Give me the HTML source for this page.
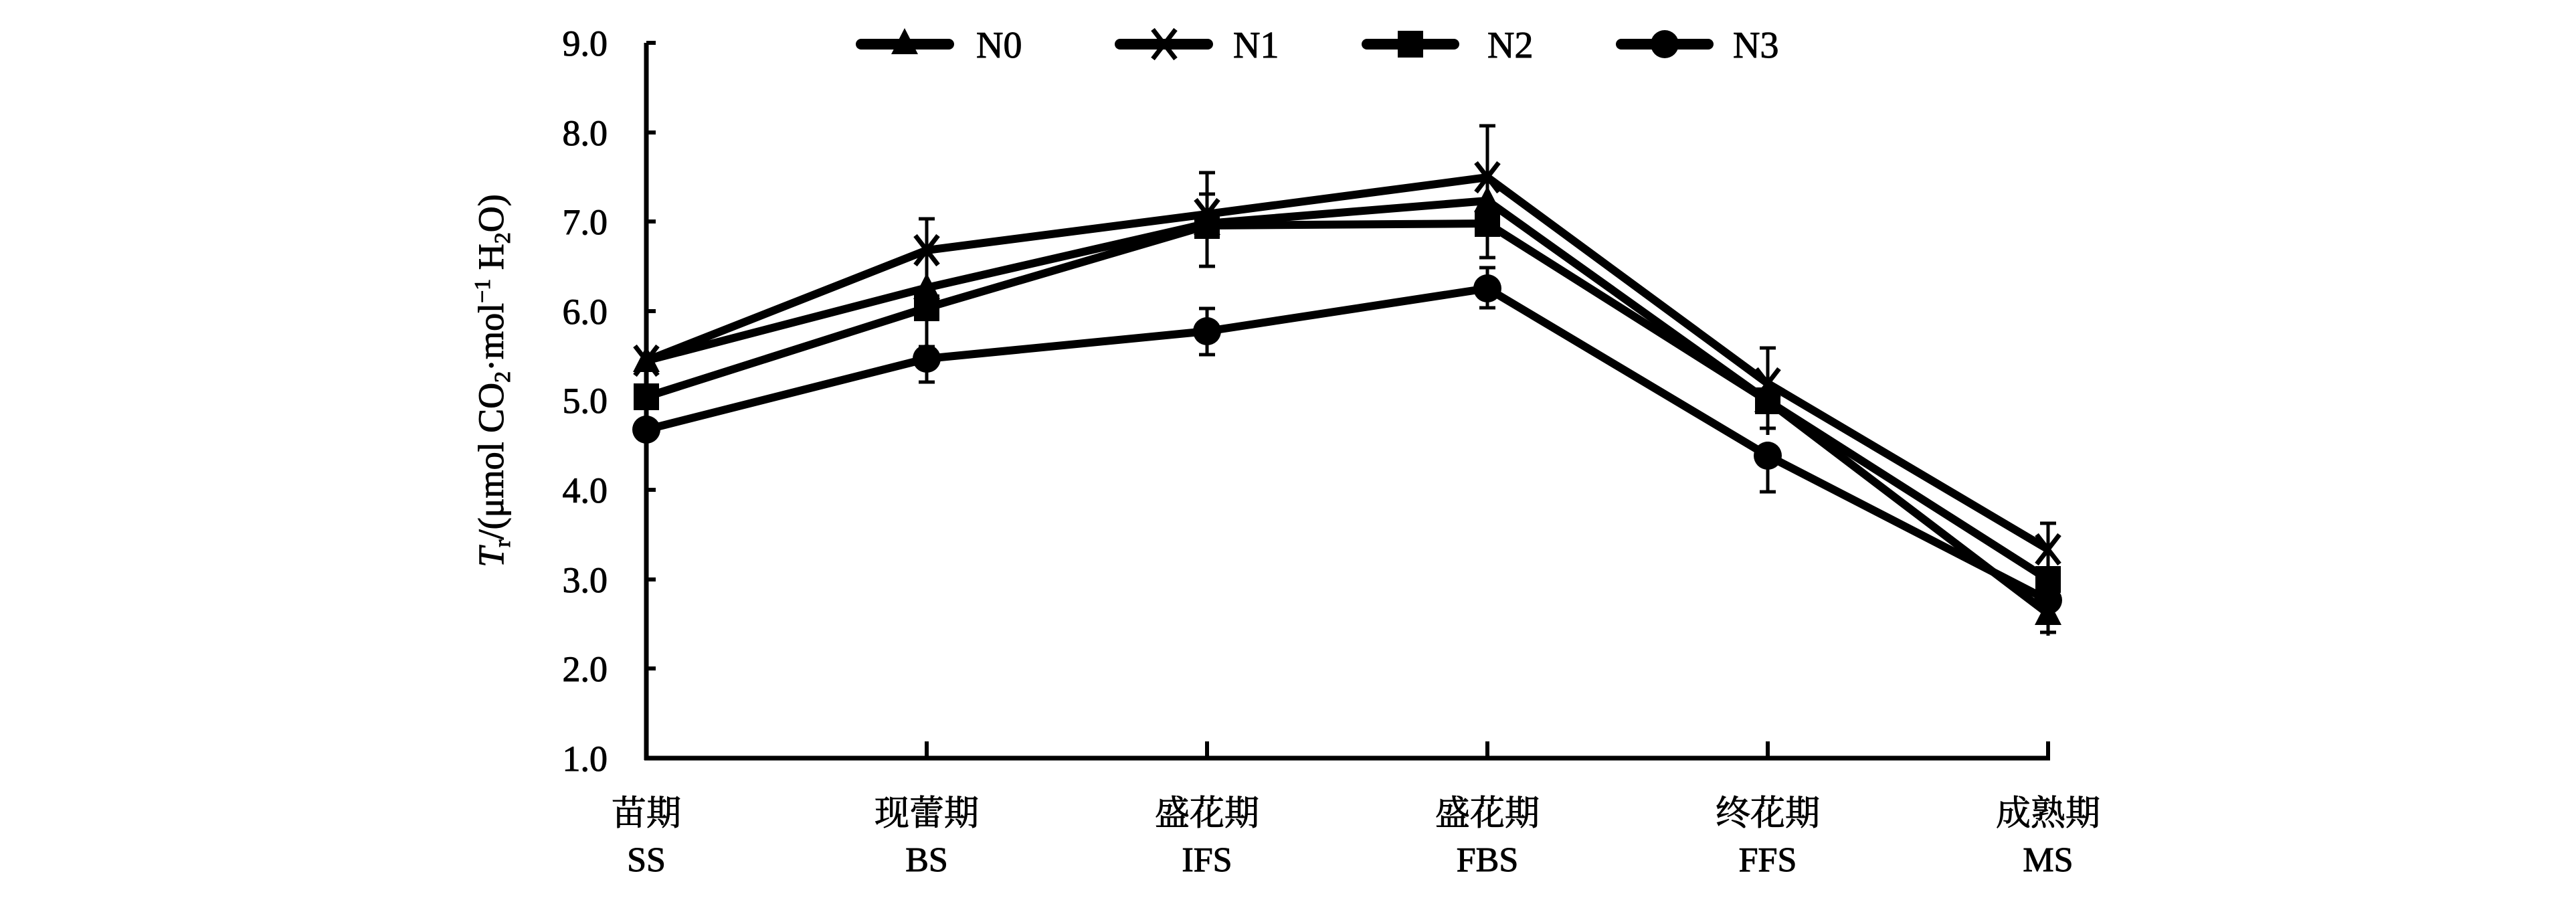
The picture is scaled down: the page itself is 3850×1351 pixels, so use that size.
<!DOCTYPE html>
<html><head><meta charset="utf-8"><style>
html,body{margin:0;padding:0;background:#fff;}
svg{display:block;}
text{font-family:"Liberation Serif","Noto Serif CJK SC",serif;fill:#000;stroke:#000;stroke-width:1;}
</style></head><body>
<svg width="3850" height="1351" viewBox="0 0 3850 1351" xmlns="http://www.w3.org/2000/svg">
<defs>
<g id="tri"><polygon points="0,-22 20,17 -20,17" fill="#000"/></g>
<g id="crs"><path d="M-17,-22 L17,22 M17,-22 L-17,22" stroke="#000" stroke-width="7" fill="none"/></g>
<g id="sq"><rect x="-19" y="-20" width="38" height="40" fill="#000"/></g>
<g id="cir"><circle r="21" fill="#000"/></g>
</defs>
<g stroke="#000" stroke-width="7" fill="none">
<line x1="966" y1="64" x2="966" y2="1136"/>
<line x1="963" y1="1133" x2="3064" y2="1133"/>
</g>
<g stroke="#000" stroke-width="6">
<line x1="966" y1="64" x2="980" y2="64"/>
<line x1="966" y1="198" x2="980" y2="198"/>
<line x1="966" y1="331" x2="980" y2="331"/>
<line x1="966" y1="465" x2="980" y2="465"/>
<line x1="966" y1="598" x2="980" y2="598"/>
<line x1="966" y1="732" x2="980" y2="732"/>
<line x1="966" y1="866" x2="980" y2="866"/>
<line x1="966" y1="999" x2="980" y2="999"/>
<line x1="1385" y1="1133" x2="1385" y2="1108"/>
<line x1="1804" y1="1133" x2="1804" y2="1108"/>
<line x1="2223" y1="1133" x2="2223" y2="1108"/>
<line x1="2642" y1="1133" x2="2642" y2="1108"/>
<line x1="3061" y1="1133" x2="3061" y2="1108"/>
</g>
<g font-size="54" text-anchor="end">
<text x="908" y="83">9.0</text>
<text x="908" y="217">8.0</text>
<text x="908" y="350">7.0</text>
<text x="908" y="484">6.0</text>
<text x="908" y="617">5.0</text>
<text x="908" y="751">4.0</text>
<text x="908" y="885">3.0</text>
<text x="908" y="1018">2.0</text>
<text x="908" y="1152">1.0</text>
</g>
<g font-size="52" text-anchor="middle">
<text x="966" y="1233">苗期</text><text x="966" y="1302">SS</text>
<text x="1385" y="1233">现蕾期</text><text x="1385" y="1302">BS</text>
<text x="1804" y="1233">盛花期</text><text x="1804" y="1302">IFS</text>
<text x="2223" y="1233">盛花期</text><text x="2223" y="1302">FBS</text>
<text x="2642" y="1233">终花期</text><text x="2642" y="1302">FFS</text>
<text x="3061" y="1233">成熟期</text><text x="3061" y="1302">MS</text>
</g>
<text transform="translate(752,569) rotate(-90)" font-size="54" text-anchor="middle"><tspan font-style="italic">T</tspan><tspan font-size="34" dy="10">r</tspan><tspan dy="-10">/(μmol CO</tspan><tspan font-size="34" dy="10">2</tspan><tspan dy="-10">·mol</tspan><tspan font-size="34" dy="-20">−1</tspan><tspan dy="20"> H</tspan><tspan font-size="34" dy="10">2</tspan><tspan dy="-10">O)</tspan></text>
<g stroke="#000" stroke-width="5" fill="none">
<path d="M1385,327 V518 M1373,327 H1397 M1373,518 H1397"/>
<path d="M1385,536 V571 M1373,571 H1397"/>
<path d="M1804,258 V398 M1792,258 H1816 M1792,290 H1816 M1792,398 H1816"/>
<path d="M1804,461 V530 M1792,461 H1816 M1792,530 H1816"/>
<path d="M2223,188 V300 M2211,188 H2235"/>
<path d="M2223,330 V385 M2211,385 H2235"/>
<path d="M2223,400 V460 M2211,400 H2235 M2211,460 H2235"/>
<path d="M2642,520 V650 M2630,520 H2654 M2630,640 H2654"/>
<path d="M2642,660 V735 M2630,735 H2654"/>
<path d="M3061,782 V950 M3049,782 H3073 M3049,945 H3073"/>
</g>
<g stroke="#000" stroke-width="12" fill="none" stroke-linejoin="round">
<polyline points="966,539 1385,430 1804,334 2223,300 2642,599 3061,917"/>
<polyline points="966,539 1385,374 1804,320 2223,265 2642,573 3061,821"/>
<polyline points="966,593 1385,460 1804,337 2223,334 2642,599 3061,866"/>
<polyline points="966,642 1385,536 1804,495 2223,431 2642,681 3061,897"/>
</g>
<g>
<use href="#tri" x="966" y="539"/><use href="#tri" x="1385" y="430"/><use href="#tri" x="1804" y="334"/><use href="#tri" x="2223" y="300"/><use href="#tri" x="2642" y="599"/><use href="#tri" x="3061" y="917"/>
<use href="#crs" x="966" y="539"/><use href="#crs" x="1385" y="374"/><use href="#crs" x="1804" y="320"/><use href="#crs" x="2223" y="265"/><use href="#crs" x="2642" y="573"/><use href="#crs" x="3061" y="821"/>
<use href="#sq" x="966" y="593"/><use href="#sq" x="1385" y="460"/><use href="#sq" x="1804" y="337"/><use href="#sq" x="2223" y="334"/><use href="#sq" x="2642" y="599"/><use href="#sq" x="3061" y="866"/>
<use href="#cir" x="966" y="642"/><use href="#cir" x="1385" y="536"/><use href="#cir" x="1804" y="495"/><use href="#cir" x="2223" y="431"/><use href="#cir" x="2642" y="681"/><use href="#cir" x="3061" y="897"/>
</g>
<g stroke="#000" stroke-width="16" stroke-linecap="round">
<line x1="1287" y1="66" x2="1418" y2="66"/>
<line x1="1674" y1="66" x2="1805" y2="66"/>
<line x1="2043" y1="66" x2="2173" y2="66"/>
<line x1="2423" y1="66" x2="2553" y2="66"/>
</g>
<use href="#tri" x="1352" y="64"/>
<use href="#crs" x="1740" y="66"/>
<use href="#sq" x="2108" y="66"/>
<use href="#cir" x="2488" y="66"/>
<g font-size="56">
<text x="1459" y="86">N0</text>
<text x="1843" y="86">N1</text>
<text x="2223" y="86">N2</text>
<text x="2590" y="86">N3</text>
</g>
</svg>
</body></html>
